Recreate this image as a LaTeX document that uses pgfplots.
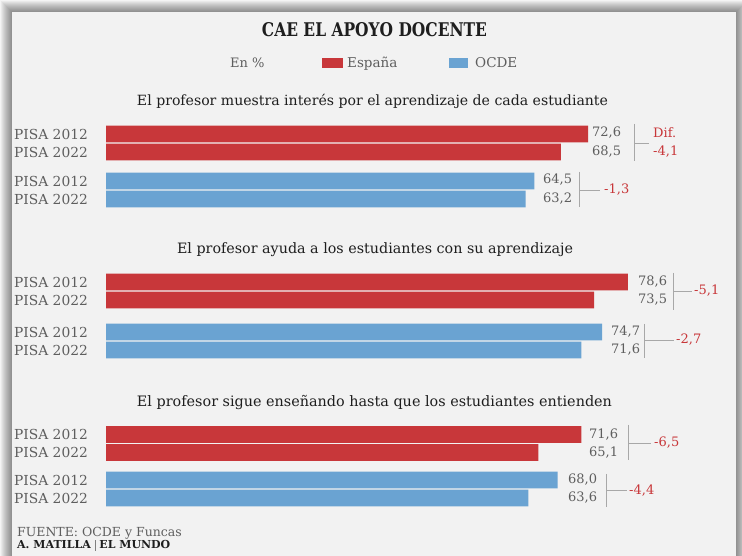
\documentclass[border=0pt]{standalone}
\usepackage{fontspec}
\setmainfont{DejaVu Serif}
\usepackage{graphicx}
\usepackage{pgfplots}
\pgfplotsset{compat=1.18}
\definecolor{esp}{HTML}{C8373A}
\definecolor{oec}{HTML}{6AA3D2}
\definecolor{panel}{HTML}{F2F2F2}
\definecolor{lab}{HTML}{5E5E5E}
\definecolor{ttl}{HTML}{1E1E1E}
\definecolor{brk}{HTML}{A8A8A8}
\newcommand\fs[1]{\fontsize{#1}{#1}\selectfont}
\begin{document}
\begin{tikzpicture}[x=1pt,y=1pt]
\fill[white] (0,0) rectangle (742,556);
\foreach \i in {1,...,12}{\fill[black,opacity=0.045] ({12-\i},0) rectangle ({736+\i},{544+\i});}
\fill[panel] (12,0) rectangle (736,544);
\begin{axis}[at={(0,0)},anchor=south west,scale only axis,width=742pt,height=556pt,
  xmin=-15.964,xmax=95.783,ymin=0,ymax=556,hide axis,clip=false]
\addplot[xbar,bar width=16.6pt,bar shift=0pt,fill=esp,draw=none] coordinates {
 (72.6,422) (68.5,404) (78.6,274) (73.5,256) (71.6,121.5) (65.1,103.5)};
\addplot[xbar,bar width=16.6pt,bar shift=0pt,fill=oec,draw=none] coordinates {
 (64.5,375) (63.2,357) (74.7,224) (71.6,206) (68.0,76) (63.6,58)};
\end{axis}
% title and legend
\node[ttl,inner sep=0] at (374.5,526.5) {\resizebox{225pt}{14pt}{\bfseries CAE EL APOYO DOCENTE}};
\node[lab,anchor=base west,inner sep=0] at (230,488.5) {\fs{13}En \%};
\fill[esp] (322,488) rectangle (343,498);
\node[lab,anchor=base west,inner sep=0] at (347,488.5) {\fs{13.5}España};
\fill[oec] (449,488) rectangle (468,498);
\node[lab,anchor=base west,inner sep=0] at (475,488.5) {\fs{13.5}OCDE};
% subtitles
\node[ttl,inner sep=0] at (372.5,455) {\resizebox{471pt}{!}{\fs{13}El profesor muestra interés por el aprendizaje de cada estudiante}};
\node[ttl,inner sep=0] at (375,306) {\resizebox{396pt}{!}{\fs{13}El profesor ayuda a los estudiantes con su aprendizaje}};
\node[ttl,inner sep=0] at (374.5,153) {\resizebox{475pt}{!}{\fs{13}El profesor sigue enseñando hasta que los estudiantes entienden}};
% category labels
\foreach \y/\t in {422/2012,404/2022,375/2012,357/2022,274/2012,256/2022,224/2012,206/2022,121.5/2012,103.5/2022,76/2012,58/2022}
  {\node[lab,anchor=west,inner sep=0] at (14,\y) {\fs{13.8}PISA \t};}
% value labels
\foreach \x/\y/\t in {592/423/{72,6},592/404/{68,5},543/376/{64,5},543/357/{63,2},
  638/274/{78,6},638/256/{73,5},611/224/{74,7},611/206/{71,6},
  589/121.5/{71,6},589/103.5/{65,1},568/76/{68,0},568/58/{63,6}}
  {\node[lab,anchor=west,inner sep=0] at (\x,\y) {\fs{13}\t};}
% brackets
\draw[brk,line width=0.8pt] (634,432) -- (634,395) (634,413) -- (649,413);
\draw[brk,line width=0.8pt] (579,384) -- (579,349) (579,366) -- (600,366);
\draw[brk,line width=0.8pt] (673,283) -- (673,246) (673,265) -- (692,265);
\draw[brk,line width=0.8pt] (644,232) -- (644,198) (644,216) -- (674,216);
\draw[brk,line width=0.8pt] (628,131) -- (628,96) (628,113) -- (651,113);
\draw[brk,line width=0.8pt] (606,82) -- (606,49) (606,66) -- (627,66);
% differences
\node[esp,anchor=west,inner sep=0] at (653,423) {\fs{13}Dif.};
\node[esp,anchor=west,inner sep=0] at (653,404) {\fs{13}-4,1};
\node[esp,anchor=west,inner sep=0] at (604,366) {\fs{13}-1,3};
\node[esp,anchor=west,inner sep=0] at (694,265) {\fs{13}-5,1};
\node[esp,anchor=west,inner sep=0] at (676,216) {\fs{13}-2,7};
\node[esp,anchor=west,inner sep=0] at (654,113) {\fs{13}-6,5};
\node[esp,anchor=west,inner sep=0] at (629,65) {\fs{13}-4,4};
% footer
\node[lab,anchor=west,inner sep=0] at (17,23) {\fs{12.5}FUENTE: OCDE y Funcas};
\node[ttl,anchor=west,inner sep=0] at (17,10.5) {\fs{11}\bfseries A. MATILLA\hspace{4pt}\textcolor{gray}{\rule[-2pt]{0.6pt}{11pt}}\hspace{4pt}EL MUNDO};
\pgfresetboundingbox
\useasboundingbox (0,0) rectangle (742,556);
\end{tikzpicture}
\end{document}
